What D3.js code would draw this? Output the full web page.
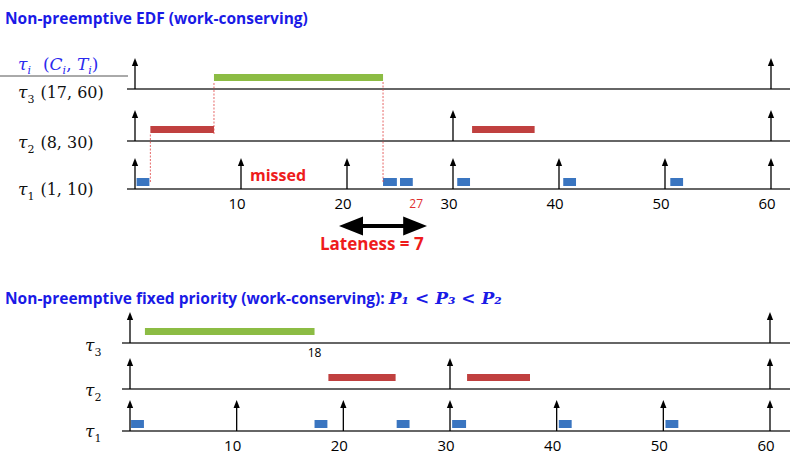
<!DOCTYPE html>
<html><head><meta charset="utf-8">
<script src="https://cdn.jsdelivr.net/npm/d3@7"></script>
<style>body{margin:0;background:#fff}</style></head>
<body><svg id="c" width="803" height="464"></svg>
<script>
const ticks = [10, 20, 30, 40, 50, 60];
const releases = { t3: [0, 60], t2: [0, 30, 60], t1: [0, 10, 20, 30, 40, 50, 60] };
// [start, end, task]
const edfJobs = [
  [0.15, 1.45, "t1"], [1.45, 7.45, "t2"], [7.45, 23.4, "t3"], [23.4, 24.8, "t1"], [25.0, 26.3, "t1"],
  [30.4, 31.7, "t1"], [31.8, 37.7, "t2"], [40.4, 41.7, "t1"], [50.5, 51.8, "t1"]
];
const fpJobs = [
  [0.1, 1.4, "t1"], [1.4, 17.3, "t3"], [17.3, 18.6, "t1"], [18.6, 24.9, "t2"], [25.0, 26.3, "t1"],
  [30.2, 31.6, "t1"], [31.6, 37.5, "t2"], [40.2, 41.5, "t1"], [50.2, 51.5, "t1"]
];
const edfLinks = [1.45, 7.45, 23.4];
const colors = { t1: "#3a75c0", t2: "#c0403f", t3: "#8cbc44" };

const svg = d3.select("#c");
svg.append("defs").append("marker").attr("id", "ah")
  .attr("viewBox", "0 0 10 10").attr("refX", 5).attr("refY", 5)
  .attr("markerWidth", 6).attr("markerHeight", 6).attr("orient", "auto-start-reverse")
  .append("path").attr("d", "M0,1 L10,5 L0,9 z").attr("fill", "#000");

function taskLabel(g, x, y, sub, extra) {
  const t = g.append("text").attr("x", x).attr("y", y).attr("font-family", "DejaVu Serif")
    .attr("font-size", 17).attr("fill", "#111");
  t.append("tspan").attr("font-style", "italic").text("τ");
  t.append("tspan").attr("font-size", 11).attr("dy", 5).text(sub);
  if (extra) t.append("tspan").attr("dy", -5).attr("dx", 6).attr("font-size", 16).text(extra);
}

function chart(cfg) {
  const x = d3.scaleLinear([0, 60], [cfg.x0, cfg.x1]);
  const g = svg.append("g");
  ["t3", "t2", "t1"].forEach(r => {
    const y = cfg.rows[r];
    g.append("line").attr("x1", cfg.lineStart).attr("x2", 790).attr("y1", y).attr("y2", y)
      .attr("stroke", "#333").attr("stroke-width", 1.3);
    releases[r].forEach(v => g.append("line").attr("x1", x(v)).attr("x2", x(v))
      .attr("y1", y).attr("y2", y - 27).attr("stroke", "#000").attr("stroke-width", 1.3)
      .attr("marker-end", "url(#ah)"));
  });
  cfg.jobs.forEach(([s, e, r]) => {
    const h = r === "t1" ? 8 : 7;
    const off = r === "t1" ? 11 : 15;
    g.append("rect").attr("x", x(s)).attr("width", x(e) - x(s) - (r === "t1" ? 1 : 0))
      .attr("y", cfg.rows[r] - off).attr("height", h).attr("fill", colors[r]);
  });
  g.selectAll(".tick").data(ticks).join("text").attr("x", d => x(d) - 4).attr("y", cfg.rows.t1 + 20)
    .attr("text-anchor", "middle").attr("font-family", "Open Sans").attr("font-size", 15).text(d => d);
  return { g, x };
}

// Top: EDF
svg.append("text").attr("x", 5).attr("y", 24).attr("font-family", "Open Sans").attr("font-weight", "bold")
  .attr("font-size", 15.5).attr("fill", "#1a1ae6").text("Non-preemptive EDF (work-conserving)");
const hdr = svg.append("text").attr("x", 18).attr("y", 70).attr("font-family", "DejaVu Serif")
  .attr("font-size", 17).attr("fill", "#2a2aee").attr("font-style", "italic");
hdr.append("tspan").text("τ"); hdr.append("tspan").attr("font-size", 11).attr("dy", 4).text("i");
hdr.append("tspan").attr("dy", -4).attr("dx", 12).attr("font-style", "normal").text("(");
hdr.append("tspan").text("C"); hdr.append("tspan").attr("font-size", 11).attr("dy", 4).text("i");
hdr.append("tspan").attr("dy", -4).attr("font-style", "normal").text(", ");
hdr.append("tspan").text("T"); hdr.append("tspan").attr("font-size", 11).attr("dy", 4).text("i");
hdr.append("tspan").attr("dy", -4).attr("font-style", "normal").text(")");
svg.append("line").attr("x1", 0).attr("x2", 128).attr("y1", 76).attr("y2", 76).attr("stroke", "#555");

const edfChart = chart({ x0: 135, x1: 771, lineStart: 127, rows: { t3: 89, t2: 141, t1: 189 }, jobs: edfJobs });
taskLabel(svg, 18, 98, "3", "(17, 60)");
taskLabel(svg, 18, 148, "2", "(8, 30)");
taskLabel(svg, 18, 195, "1", "(1, 10)");
edfLinks.forEach((v, i) => {
  const ys = [[182, 134], [134, 82], [182, 82]][i];
  svg.append("line").attr("x1", edfChart.x(v)).attr("x2", edfChart.x(v)).attr("y1", ys[0]).attr("y2", ys[1])
    .attr("stroke", "#e04040").attr("stroke-width", 0.8).attr("stroke-dasharray", "2,1.5");
});
svg.append("text").attr("x", 250).attr("y", 181).attr("font-family", "Open Sans").attr("font-weight", "bold")
  .attr("font-size", 16).attr("fill", "#ee1c1c").text("missed");
svg.append("text").attr("x", edfChart.x(27) - 5).attr("y", 208).attr("text-anchor", "middle").attr("font-family", "Open Sans")
  .attr("font-size", 12).attr("fill", "#e03030").text("27");
svg.append("line").attr("x1", edfChart.x(20) + 4).attr("x2", edfChart.x(27) - 6).attr("y1", 226).attr("y2", 226)
  .attr("stroke", "#000").attr("stroke-width", 4).attr("marker-end", "url(#ah)").attr("marker-start", "url(#ah)");
svg.append("text").attr("x", 320).attr("y", 250).attr("font-family", "Open Sans").attr("font-weight", "bold")
  .attr("font-size", 17).attr("fill", "#ee1c1c").text("Lateness = 7");

// Bottom: fixed priority
const t2 = svg.append("text").attr("x", 5).attr("y", 304).attr("font-family", "Open Sans").attr("font-weight", "bold")
  .attr("font-size", 15.5).attr("fill", "#1a1ae6");
t2.append("tspan").text("Non-preemptive fixed priority (work-conserving): ");
t2.append("tspan").attr("font-family", "DejaVu Serif").attr("font-style", "italic").attr("font-size", 17)
  .text("P\u2081 < P\u2083 < P\u2082");
const fpChart = chart({ x0: 130, x1: 770, lineStart: 122, rows: { t3: 343, t2: 389, t1: 431 }, jobs: fpJobs });
taskLabel(svg, 85, 351, "3");
taskLabel(svg, 85, 396, "2");
taskLabel(svg, 85, 437, "1");
svg.append("text").attr("x", fpChart.x(17.3)).attr("y", 357).attr("text-anchor", "middle").attr("font-family", "Open Sans")
  .attr("font-size", 12).text("18");
</script></body></html>
